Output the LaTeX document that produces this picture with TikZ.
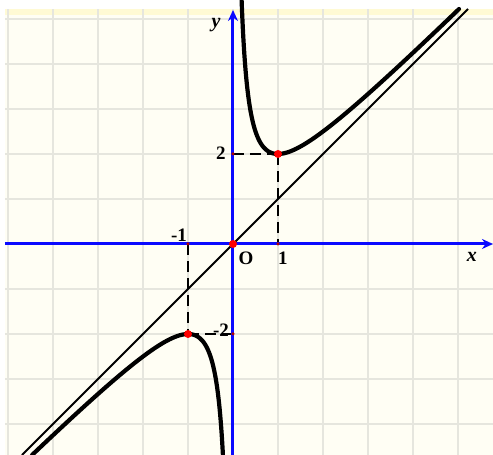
\documentclass[tikz,border=0pt]{standalone}
\usepackage{fontspec}
\setmainfont{Liberation Serif}
\usetikzlibrary{arrows.meta}
\definecolor{bgivory}{HTML}{FFFEF4}
\definecolor{bandyellow}{HTML}{FFFAD4}
\definecolor{gridgrey}{HTML}{E6E6DE}
\definecolor{axisblue}{HTML}{0A0AFF}
\definecolor{tickred}{HTML}{B00000}
\begin{document}
\begin{tikzpicture}[x=45pt,y=45pt,
  gridline/.style={gridgrey,line width=1.6pt},
  axisline/.style={axisblue,line width=3pt,-{Stealth[length=11pt,width=10pt]}},
  graphline/.style={black,line width=4.2pt,line cap=round},
  asymline/.style={black,line width=1.8pt},
  guide/.style={black,line width=2.4pt,dash pattern=on 11pt off 6pt},
  bigdot/.style={circle,fill=red,inner sep=0pt,minimum size=8pt},
  smalldot/.style={circle,fill=tickred,inner sep=0pt,minimum size=3.5pt},
  lbl/.style={font=\fontsize{19}{19}\selectfont\bfseries,inner sep=0pt},
  vlbl/.style={font=\fontsize{20}{20}\selectfont\bfseries\itshape,inner sep=0pt}]
\useasboundingbox (-5.1778,-4.6889) rectangle (5.7778,5.4222);
% background
\fill[bgivory] (-5.0667,-4.6889) rectangle (5.7778,5.2222);
\fill[bandyellow] (-5.0667,5.0889) rectangle (5.7778,5.2222);
\foreach \i in {-5,...,5} \draw[gridline] (\i,-4.6889) -- (\i,5.2222);
\foreach \j in {-4,...,5} \draw[gridline] (-5.0667,\j) -- (5.7778,\j);
% points
\coordinate (O) at (0,0);
\coordinate (A) at (1,2);
\coordinate (B) at (-1,-2);
\coordinate (Ax) at (1,0);
\coordinate (Ay) at (0,2);
\coordinate (Bx) at (-1,0);
\coordinate (By) at (0,-2);
\coordinate (xl) at (-5.0667,0);
\coordinate (xr) at (5.7778,0);
\coordinate (yb) at (0,-4.6889);
\coordinate (yt) at (0,5.2);
\coordinate (asl) at (-4.6889,-4.6889);
\coordinate (ast) at (5.2222,5.2222);
% dashed guides
\draw[guide] (Ay) -- (A);
\draw[guide] (A) -- (Ax);
\draw[guide] (Bx) -- (B);
\draw[guide] (B) -- (By);
% asymptote
\draw[asymline] (asl) -- (ast);
% graph y = x + 1/x
\draw[graphline] plot[domain=0.191:1,samples=120,smooth] (\x,{\x+1/\x});
\draw[graphline] plot[domain=1:5.023,samples=60,smooth] (\x,{\x+1/\x});
\draw[graphline] plot[domain=-4.465:-1,samples=60,smooth] (\x,{\x+1/\x});
\draw[graphline] plot[domain=-1:-0.224,samples=120,smooth] (\x,{\x+1/\x});
% axes
\draw[axisline] (xl) -- (xr);
\draw[axisline] (yb) -- (yt);
% dots
\node[smalldot] (dAx) at (Ax) {};
\node[smalldot] (dAy) at (Ay) {};
\node[smalldot] (dBx) at (Bx) {};
\node[smalldot] (dBy) at (By) {};
\node[bigdot] (dO) at (O) {};
\node[bigdot] (dA) at (A) {};
\node[bigdot] (dB) at (B) {};
% labels
\node[vlbl] (ly) at (-0.378,4.867) {y};
\node[vlbl] (lx) at (5.311,-0.289) {x};
\node[lbl] (l2) at (-0.267,2.022) {2};
\node[lbl] (lm1) at (-1.2,0.2) {-1};
\node[lbl] (lO) at (0.289,-0.311) {O};
\node[lbl] (l1) at (1.111,-0.311) {1};
\node[lbl] (lm2) at (-0.267,-1.911) {-2};
\end{tikzpicture}
\end{document}
